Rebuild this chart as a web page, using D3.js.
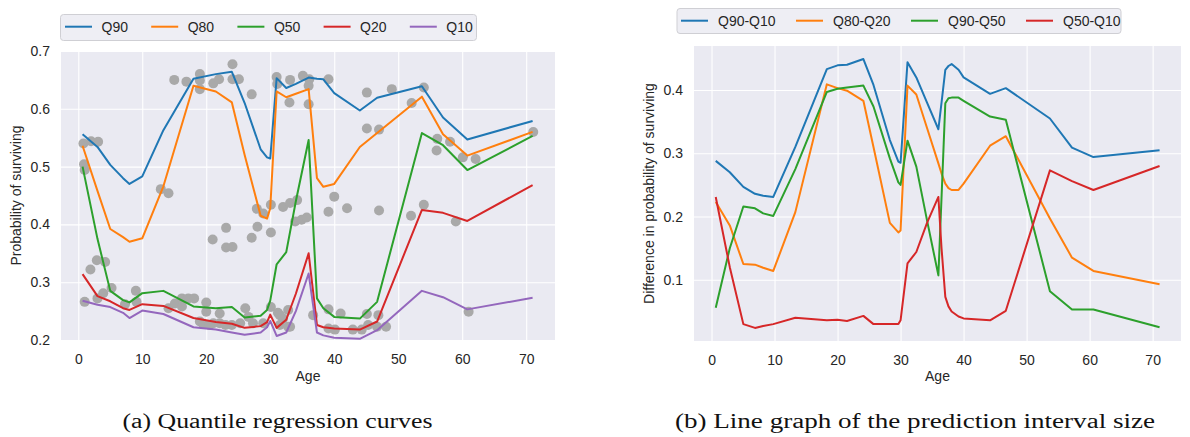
<!DOCTYPE html>
<html><head><meta charset="utf-8">
<script src="https://cdn.jsdelivr.net/npm/d3@7"></script>
<style>
html,body{margin:0;padding:0;background:#fff;}
svg text{font-family:"Liberation Sans",Arial,sans-serif;fill:#262626;}
</style></head>
<body>
<svg id="c" width="1190" height="437"></svg>
<script>
// ---------- Data: panel (a) ----------
const ages = [0.67, 3, 5, 7, 8, 10, 13.3, 18, 21.5, 24, 26, 28.5, 29.5, 30, 31, 32.5, 34, 36, 37.3, 38.3, 40, 44, 46.7, 53.7, 57, 60.8, 71];
const q90 = [0.556,0.534,0.503,0.480,0.470,0.483,0.563,0.652,0.660,0.664,0.610,0.530,0.516,0.514,0.653,0.636,0.643,0.654,0.652,0.651,0.627,0.597,0.619,0.639,0.585,0.547,0.579];
const q80 = [0.536,0.458,0.392,0.378,0.370,0.376,0.466,0.640,0.630,0.611,0.520,0.415,0.410,0.428,0.630,0.620,0.626,0.634,0.480,0.465,0.470,0.534,0.558,0.621,0.556,0.519,0.560];
const q50 = [0.500,0.375,0.285,0.269,0.265,0.281,0.285,0.258,0.255,0.257,0.239,0.242,0.252,0.268,0.331,0.352,0.440,0.546,0.272,0.255,0.240,0.237,0.266,0.558,0.537,0.494,0.553];
const q20 = [0.314,0.276,0.267,0.255,0.252,0.262,0.259,0.238,0.231,0.228,0.221,0.224,0.231,0.244,0.221,0.235,0.280,0.350,0.226,0.222,0.220,0.218,0.232,0.425,0.420,0.406,0.468];
const q10 = [0.268,0.261,0.257,0.247,0.238,0.251,0.245,0.222,0.218,0.213,0.209,0.213,0.222,0.233,0.207,0.213,0.250,0.315,0.213,0.208,0.204,0.202,0.217,0.285,0.274,0.253,0.273];

const pointAges = [0.8,2.0,3.1,0.9,1.0,15.0,16.9,19.0,19.0,19.0,21.1,22.0,24.1,24.1,25.1,27.1,
  31.0,31.1,33.1,33.0,35.1,36.1,36.0,36.0,39.1,45.1,49.0,54.0,52.1,45.1,47.0,56.1,56.0,58.1,60.1,62.1,71.1,
  12.9,14.1,40.0,39.1,42.0,47.0,52.0,54.0,59.0,2.9,4.2,1.9,
  21.0,23.1,23.1,24.1,27.1,28.0,27.9,28.9,30.1,30.1,32.0,33.1,34.2,33.9,34.9,35.7,
  1.0,3.0,3.9,5.2,9.0,9.1,7.3,14.1,15.1,16.2,17.2,18.1,16.2,19.0,20.0,20.0,21.1,22.1,22.1,24.0,25.3,26.1,26.6,27.3,28.9,30.1,31.2,32.0,33.1,31.5,31.5,32.8,32.8,
  36.7,39.1,41.0,39.1,40.1,42.9,44.3,45.1,45.3,46.9,46.7,48.1,61.0,19.5,20.5,23.0];
const pointProbs = [0.540,0.544,0.543,0.504,0.494,0.650,0.647,0.660,0.649,0.634,0.644,0.651,0.677,0.651,0.651,0.625,
  0.655,0.643,0.650,0.611,0.657,0.651,0.640,0.608,0.651,0.628,0.634,0.637,0.610,0.566,0.564,0.548,0.528,0.543,0.516,0.513,0.560,
  0.461,0.454,0.448,0.422,0.428,0.424,0.415,0.434,0.405,0.338,0.335,0.322,
  0.374,0.394,0.360,0.361,0.377,0.396,0.427,0.419,0.434,0.386,0.430,0.437,0.442,0.405,0.408,0.412,
  0.266,0.272,0.281,0.290,0.285,0.266,0.262,0.255,0.263,0.272,0.272,0.272,0.258,0.232,0.265,0.249,0.229,0.246,0.229,0.226,0.229,0.255,0.240,0.229,0.229,0.257,0.247,0.237,0.223,0.243,0.226,0.252,0.223,
  0.243,0.253,0.246,0.220,0.218,0.218,0.218,0.245,0.226,0.243,0.223,0.223,0.249,0.228,0.226,0.226];

// ---------- Data: panel (b) ----------
const diffAges = [0.67,2.9,5.05,6.9,8.2,9.8,13.3,18.3,20,21.5,24.1,25.7,28.3,29.65,30,31.1,32.5,34.2,36,36.5,37.1,37.6,38.1,39.2,40,44.2,46.7,53.7,57.2,60.6,71.1];
const d9010 = [0.288,0.270,0.247,0.236,0.233,0.231,0.310,0.433,0.439,0.440,0.449,0.408,0.321,0.287,0.285,0.444,0.420,0.380,0.338,0.380,0.432,0.438,0.441,0.432,0.420,0.394,0.403,0.355,0.309,0.294,0.305];
const d8020 = [0.223,0.186,0.125,0.124,0.119,0.114,0.207,0.409,0.403,0.399,0.383,0.310,0.190,0.175,0.178,0.407,0.393,0.340,0.284,0.268,0.252,0.245,0.242,0.242,0.252,0.312,0.327,0.197,0.135,0.114,0.093];
const d9050 = [0.056,0.150,0.216,0.213,0.205,0.201,0.275,0.397,0.402,0.404,0.407,0.374,0.292,0.254,0.250,0.320,0.279,0.194,0.107,0.230,0.379,0.387,0.388,0.388,0.383,0.358,0.353,0.082,0.053,0.053,0.025];
const d5010 = [0.231,0.120,0.030,0.024,0.027,0.030,0.040,0.036,0.037,0.035,0.043,0.030,0.030,0.030,0.036,0.126,0.144,0.190,0.231,0.150,0.073,0.058,0.050,0.042,0.039,0.036,0.051,0.273,0.256,0.242,0.280];

const xTicks = [0,10,20,30,40,50,60,70];
const yTicksA = [0.2,0.3,0.4,0.5,0.6,0.7];
const yTicksB = [0.1,0.2,0.3,0.4];
const namesA = ["Q90","Q80","Q50","Q20","Q10"];
const namesB = ["Q90-Q10","Q80-Q20","Q90-Q50","Q50-Q10"];
const colors = ["#1f77b4","#ff7f0e","#2ca02c","#d62728","#9467bd"];

const svg = d3.select("#c");
const fmt = d3.format(".1f");

function panel(cfg){
  const g = svg.append("g");
  const x = d3.scaleLinear().domain(cfg.xd).range([cfg.l, cfg.r]);
  const y = d3.scaleLinear().domain(cfg.yd).range([cfg.b, cfg.t]);
  g.append("rect").attr("x",cfg.l).attr("y",cfg.t).attr("width",cfg.r-cfg.l).attr("height",cfg.b-cfg.t).attr("fill","#eaeaf2");
  const clipId = "clip"+cfg.id;
  svg.append("clipPath").attr("id",clipId).append("rect").attr("x",cfg.l).attr("y",cfg.t).attr("width",cfg.r-cfg.l).attr("height",cfg.b-cfg.t);
  // grid via axes
  const gx = g.append("g").attr("transform",`translate(0,${cfg.b})`)
    .call(d3.axisBottom(x).tickValues(xTicks).tickSize(-(cfg.b-cfg.t)).tickPadding(14).tickFormat(d3.format("d")));
  const gy = g.append("g").attr("transform",`translate(${cfg.l},0)`)
    .call(d3.axisLeft(y).tickValues(cfg.yt).tickSize(-(cfg.r-cfg.l)).tickPadding(11).tickFormat(fmt));
  [gx,gy].forEach(a=>{
    a.select(".domain").remove();
    a.selectAll(".tick line").attr("stroke","#fff").attr("stroke-width",1.1);
    a.selectAll(".tick text").attr("font-size",14).attr("fill","#262626").style("font-family","'Liberation Sans',Arial,sans-serif");
  });
  const plot = g.append("g").attr("clip-path",`url(#${clipId})`);
  return {g,x,y,plot};
}

// Panel (a)
const A = panel({id:"a", l:61, r:555, t:51, b:340, xd:[-2.7,74.5], yd:[0.2,0.7], yt:yTicksA});
A.plot.selectAll("circle").data(pointAges.map((a,i)=>[a,pointProbs[i]])).join("circle")
  .attr("cx",d=>A.x(d[0])).attr("cy",d=>A.y(d[1])).attr("r",5).attr("fill","#a9a9a9");
const seriesA = [q90,q80,q50,q20,q10];
const lineA = d3.line().x((d,i)=>A.x(ages[i])).y(d=>A.y(d));
seriesA.forEach((s,k)=>{
  A.plot.append("path").attr("d",lineA(s)).attr("fill","none").attr("stroke",colors[k]).attr("stroke-width",2).attr("stroke-linejoin","round");
});
A.g.append("text").attr("x",308).attr("y",381).attr("text-anchor","middle").attr("font-size",14).text("Age");
A.g.append("text").attr("transform","translate(16,195.5) rotate(-90)").attr("dy","0.35em").attr("text-anchor","middle").attr("font-size",14).text("Probability of surviving");

// Panel (b)
const B = panel({id:"b", l:694, r:1181, t:46, b:341, xd:[-2.78,74.5], yd:[0.0033,0.4696], yt:yTicksB});
const seriesB = [d9010,d8020,d9050,d5010];
const lineB = d3.line().x((d,i)=>B.x(diffAges[i])).y(d=>B.y(d));
seriesB.forEach((s,k)=>{
  B.plot.append("path").attr("d",lineB(s)).attr("fill","none").attr("stroke",colors[k]).attr("stroke-width",2).attr("stroke-linejoin","round");
});
B.g.append("text").attr("x",937.5).attr("y",381).attr("text-anchor","middle").attr("font-size",14).text("Age");
B.g.append("text").attr("transform","translate(649,193.5) rotate(-90)").attr("dy","0.35em").attr("text-anchor","middle").attr("font-size",14).text("Difference in probability of surviving");

// Legends
function legend(names, bx, by, bw, bh, lx, tx, step, cy){
  const lg = svg.append("g");
  lg.append("rect").attr("x",bx).attr("y",by).attr("width",bw).attr("height",bh).attr("rx",3)
    .attr("fill","#eeeef4").attr("stroke","#cfcfd4").attr("stroke-width",1);
  names.forEach((n,i)=>{
    lg.append("line").attr("x1",lx+i*step).attr("x2",lx+27+i*step).attr("y1",cy).attr("y2",cy)
      .attr("stroke",colors[i]).attr("stroke-width",2);
    lg.append("text").attr("x",tx+i*step).attr("y",cy).attr("dy","0.35em").attr("font-size",14).text(n);
  });
}
legend(namesA, 60.5, 14.5, 416, 26, 65, 101.5, 86.2, 26.7);
legend(namesB, 677, 8.5, 444, 25, 681, 718, 115, 20.7);

// Captions
svg.append("text").attr("x",122.5).attr("y",428).attr("font-size",20).attr("textLength",310).attr("lengthAdjust","spacingAndGlyphs")
  .style("font-family","'Liberation Serif','Times New Roman',serif").style("fill","#111").text("(a) Quantile regression curves");
svg.append("text").attr("x",675).attr("y",428).attr("font-size",20).attr("textLength",480).attr("lengthAdjust","spacingAndGlyphs")
  .style("font-family","'Liberation Serif','Times New Roman',serif").style("fill","#111").text("(b) Line graph of the prediction interval size");
</script>
</body></html>
